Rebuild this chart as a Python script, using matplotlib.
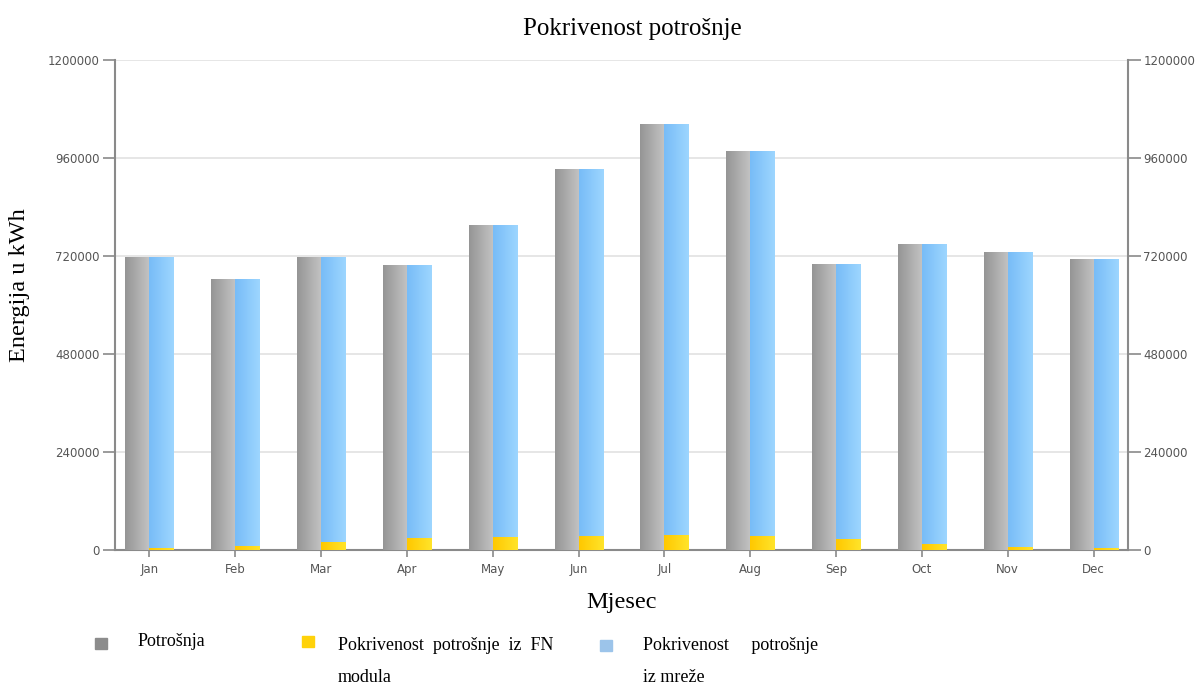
import numpy as np
import matplotlib.pyplot as plt
from matplotlib.colors import LinearSegmentedColormap

months = ["Jan", "Feb", "Mar", "Apr", "May", "Jun", "Jul", "Aug", "Sep", "Oct", "Nov", "Dec"]
potrosnja = [718000, 664000, 718000, 698000, 796000, 933000, 1043000, 977000, 700000, 749000, 730000, 713000]
fn_modul = [5000, 10500, 20000, 30000, 32500, 34000, 37500, 33500, 27000, 15000, 8000, 5000]
mreza = [p - f for p, f in zip(potrosnja, fn_modul)]
yticks = [0, 240000, 480000, 720000, 960000, 1200000]

GRAY = ("#959595", "#c4c4c4")
YELLOW = ("#ffc800", "#ffe42a")
BLUE = ("#78bcf7", "#9dd6ff")


def gradient_bars(ax, bars, cols):
    cmap = LinearSegmentedColormap.from_list("g", cols)
    grad = np.linspace(0, 1, 64).reshape(1, -1)
    for b in bars:
        x0, y0 = b.get_x(), b.get_y()
        im = ax.imshow(grad, cmap=cmap, aspect="auto", zorder=b.get_zorder(),
                       extent=[x0, x0 + b.get_width(), y0, y0 + b.get_height()])
        im.set_clip_path(b)


plt.rcParams["font.family"] = ["DejaVu Sans"]
fig = plt.figure(figsize=(12, 6.86), dpi=100)
ax = fig.add_axes([0.0958, 0.198, 0.8442, 0.7145])

x = np.arange(len(months))
w = 0.28
b1 = ax.bar(x - w / 2, potrosnja, w, color=GRAY[0], zorder=3)
b2 = ax.bar(x + w / 2, fn_modul, w, color=YELLOW[0], zorder=3)
b3 = ax.bar(x + w / 2, mreza, w, bottom=fn_modul, color=BLUE[0], zorder=3)
gradient_bars(ax, b1, GRAY)
gradient_bars(ax, b2, YELLOW)
gradient_bars(ax, b3, BLUE)

ax.set_xlim(-0.4, 11.4)
ax.set_ylim(0, 1200000)
ax.set_yticks(yticks)
ax.set_yticklabels([str(v) for v in yticks])
ax.set_xticks(x)
ax.set_xticklabels(months)
ax.yaxis.grid(True, color="#e2e2e2", lw=1.2, zorder=0)
ax.set_axisbelow(True)

ax.spines["top"].set_visible(False)
for s in ["left", "right", "bottom"]:
    ax.spines[s].set_color("#8a8a8a")
    ax.spines[s].set_linewidth(1.5)
ax.tick_params(axis="y", which="both", left=True, right=True, labelright=True,
               length=9, width=1.2, color="#8a8a8a", labelsize=8.5, labelcolor="#555555", pad=2)
ax.tick_params(axis="x", length=5, width=1.2, color="#8a8a8a", labelsize=8.5,
               labelcolor="#555555", pad=4)

ax.set_title("Pokrivenost potrošnje", family="Liberation Serif", fontsize=18, pad=18, x=0.511)
ax.set_ylabel("Energija u kWh", family="Liberation Serif", fontsize=17.5)
ax.yaxis.set_label_coords(-0.084, 0.54)
ax.set_xlabel("Mjesec", family="Liberation Serif", fontsize=17.5, labelpad=12)

# legend below the chart
lg = dict(family="Liberation Serif", fontsize=13, va="center")
fig.patches.append(plt.Rectangle((95 / 1200, 1 - 649 / 686), 12 / 1200, 11 / 686,
                                 transform=fig.transFigure, color="#8c8c8c", figure=fig))
fig.text(138 / 1200, 1 - 641 / 686, "Potrošnja", **lg)
fig.patches.append(plt.Rectangle((302 / 1200, 1 - 647 / 686), 12 / 1200, 11 / 686,
                                 transform=fig.transFigure, color="#ffd20a", figure=fig))
fig.text(338 / 1200, 1 - 646 / 686, "Pokrivenost  potrošnje  iz  FN", **lg)
fig.text(338 / 1200, 1 - 677 / 686, "modula", **lg)
fig.patches.append(plt.Rectangle((600 / 1200, 1 - 651 / 686), 12 / 1200, 11 / 686,
                                 transform=fig.transFigure, color="#9cc4ea", figure=fig))
fig.text(643 / 1200, 1 - 646 / 686, "Pokrivenost     potrošnje", **lg)
fig.text(643 / 1200, 1 - 678 / 686, "iz mreže", **lg)

fig.savefig("out.png", dpi=100)
